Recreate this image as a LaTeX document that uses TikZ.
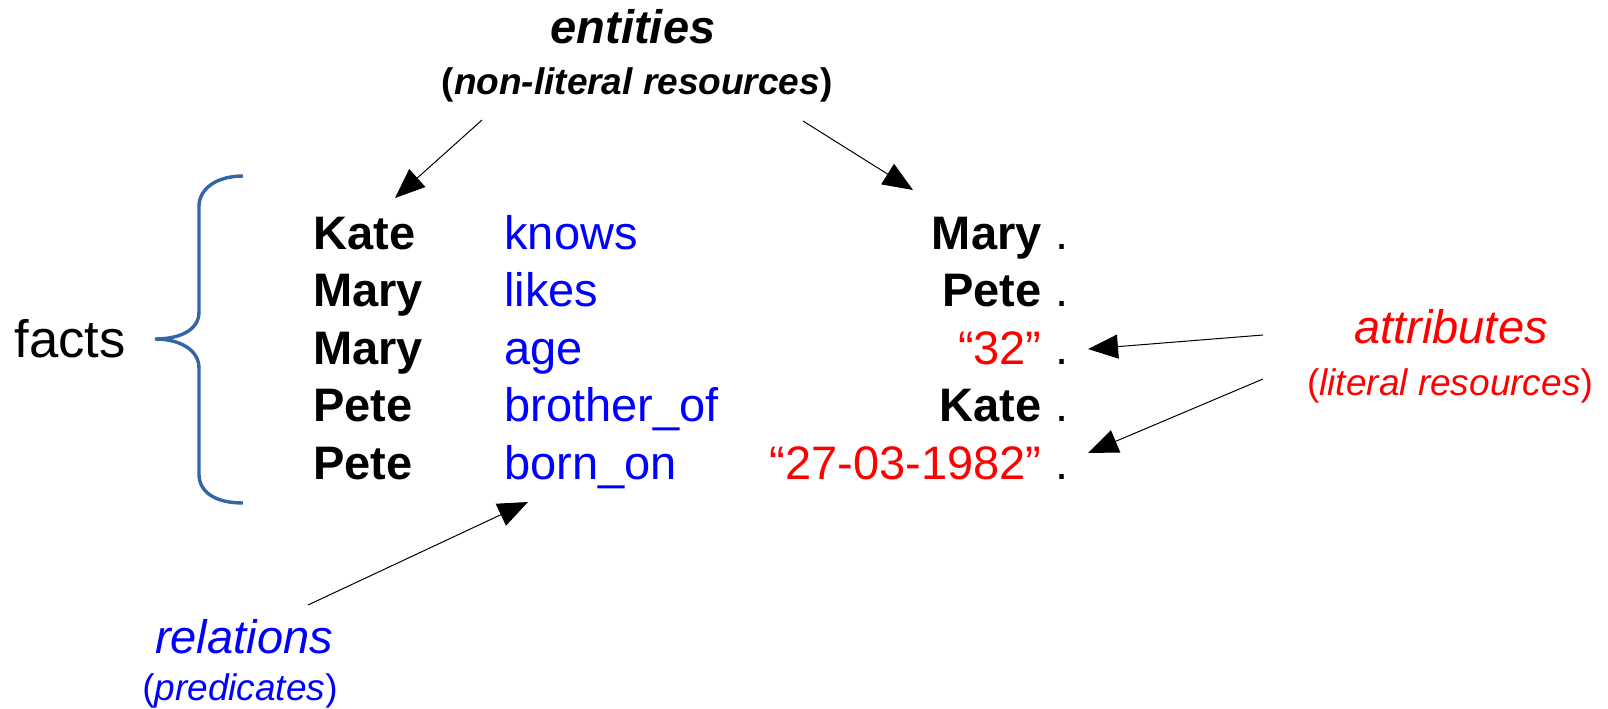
\documentclass[tikz,border=0pt]{standalone}
\usepackage{fontspec}
\setmainfont{Liberation Sans}
\usetikzlibrary{arrows.meta}
\definecolor{predblue}{HTML}{0000FF}
\definecolor{attrred}{HTML}{FF0000}
\definecolor{bracecol}{HTML}{3465A4}
\tikzset{
  main/.style={inner sep=0pt, font=\fontsize{23.5}{28}\selectfont},
  subj/.style={main, anchor=base west, font=\fontsize{23.5}{28}\selectfont\bfseries},
  pred/.style={main, anchor=base west, text=predblue},
  obj/.style={main, anchor=base east, font=\fontsize{23.5}{28}\selectfont\bfseries},
  lit/.style={main, anchor=base east, text=attrred},
  dotnode/.style={main, anchor=base west},
  title/.style={inner sep=0pt, anchor=base, font=\fontsize{23.5}{28}\selectfont\bfseries\itshape},
  subtitle/.style={inner sep=0pt, anchor=base, font=\fontsize{18.5}{22}\selectfont},
  pointer/.style={line width=0.5pt, -{Triangle[length=15pt,width=12pt]}},
}
\begin{document}
\begin{tikzpicture}[x=0.5pt,y=-0.5pt]
\useasboundingbox (0,0) rectangle (1608,708);
% top label
\node[title] (ent) at (633,43) {entities};
\node[subtitle] (entsub) at (637,94) {\textbf{(\textit{non-literal resources})}};
% facts
\node[main, anchor=base west, font=\fontsize{26.3}{30}\selectfont] (facts) at (14,357) {facts};
\draw[bracecol, line width=1.7pt]
  (243,176) .. controls (215,176) and (199,190) .. (199,206) -- (199,312)
  .. controls (199,330) and (180,339) .. (155,339)
  .. controls (180,339) and (199,350) .. (199,368) -- (199,474)
  .. controls (199,492) and (215,503) .. (243,503);
% rows
\node[subj] (s1) at (313,249) {Kate};
\node[subj] (s2) at (313,306.5) {Mary};
\node[subj] (s3) at (313,364) {Mary};
\node[subj] (s4) at (313,421.5) {Pete};
\node[subj] (s5) at (313,479) {Pete};
\node[pred] (p1) at (504,249) {knows};
\node[pred] (p2) at (504,306.5) {likes};
\node[pred] (p3) at (504,364) {age};
\node[pred] (p4) at (504,421.5) {brother\_of};
\node[pred] (p5) at (504,479) {born\_on};
\node[obj] (o1) at (1042,249) {Mary};
\node[obj] (o2) at (1042,306.5) {Pete};
\node[lit] (o3) at (1042,364) {“32”};
\node[obj] (o4) at (1042,421.5) {Kate};
\node[lit] (o5) at (1042,479) {“27-03-1982”};
\node[dotnode] (d1) at (1055,249) {.};
\node[dotnode] (d2) at (1055,306.5) {.};
\node[dotnode] (d3) at (1055,364) {.};
\node[dotnode] (d4) at (1055,421.5) {.};
\node[dotnode] (d5) at (1055,479) {.};
% attributes
\node[inner sep=0pt, anchor=base, text=attrred, font=\fontsize{23.5}{28}\selectfont\itshape] (attr) at (1451,343) {attributes};
\node[subtitle, text=attrred] (attrsub) at (1450,395) {(\textit{literal resources})};
% relations
\node[inner sep=0pt, anchor=base, text=predblue, font=\fontsize{23.5}{28}\selectfont\itshape] (rel) at (244,653) {relations};
\node[subtitle, text=predblue] (relsub) at (240,700) {(\textit{predicates})};
% arrow endpoints
\coordinate (a1s) at (482,120);
\coordinate (a1e) at (395,198);
\coordinate (a2s) at (803,121);
\coordinate (a2e) at (913,190);
\coordinate (a3s) at (1263,335);
\coordinate (a3e) at (1088,349);
\coordinate (a4s) at (1263,379);
\coordinate (a4e) at (1088,453);
\coordinate (a5s) at (308,605);
\coordinate (a5e) at (528,502);
\draw[pointer] (a1s) -- (a1e);
\draw[pointer] (a2s) -- (a2e);
\draw[pointer] (a3s) -- (a3e);
\draw[pointer] (a4s) -- (a4e);
\draw[pointer] (a5s) -- (a5e);
\end{tikzpicture}
\end{document}
